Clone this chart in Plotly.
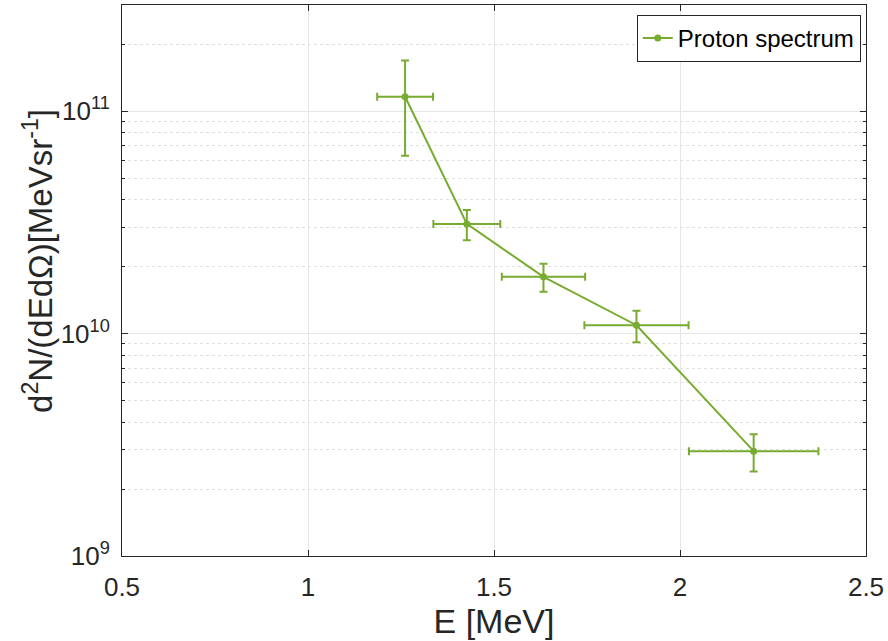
import plotly.graph_objects as go

energy = [1.261, 1.427, 1.633, 1.883, 2.198]
energy_err = [0.075, 0.09, 0.112, 0.14, 0.174]
counts = [1.16e11, 3.11e10, 1.80e10, 1.09e10, 2.96e9]
counts_err = [5.3e10, 4.85e9, 2.6e9, 1.75e9, 5.65e8]

x_ticks = [0.5, 1, 1.5, 2, 2.5]
x_ticktext = ["0.5", "1", "1.5", "2", "2.5"]
y_ticks = [1e9, 1e10, 1e11]
y_ticktext = ["10<sup>9</sup>", "10<sup>10</sup>", "10<sup>11</sup>"]

green = "#77AC30"

fig = go.Figure()
fig.add_trace(go.Scatter(
    x=energy, y=counts, mode="lines+markers", name="Proton spectrum",
    line=dict(color=green, width=2),
    marker=dict(color=green, size=7),
    error_y=dict(type="data", array=counts_err, color=green, thickness=2, width=4),
    error_x=dict(type="data", array=energy_err, color=green, thickness=2, width=4),
))

fig.add_annotation(
    text="d<sup>2</sup>N/(dEdΩ)[MeVsr<sup>-1</sup>]",
    xref="paper", yref="paper", x=-0.112, y=0.535,
    xanchor="center", yanchor="middle", textangle=-90, showarrow=False,
    font=dict(size=33, color="#262626"),
)

fig.update_layout(
    width=888, height=641,
    margin=dict(l=122, r=22, t=5, b=85),
    paper_bgcolor="white", plot_bgcolor="white",
    font=dict(family="Liberation Sans, Arial, sans-serif", color="#262626", size=26),
    showlegend=True,
    legend=dict(x=0.993, y=0.982, xanchor="right", yanchor="top",
                bordercolor="#262626", borderwidth=1, bgcolor="white",
                font=dict(size=24, color="black"), itemwidth=30,
                tracegroupgap=0),
    xaxis=dict(
        range=[0.5, 2.5], tickvals=x_ticks, ticktext=x_ticktext,
        showline=True, linecolor="#262626", linewidth=1, mirror="ticks",
        ticks="inside", ticklen=6, tickcolor="#262626",
        ticklabelstandoff=8,
        showgrid=True, gridcolor="#e6e6e6", gridwidth=1, zeroline=False,
        title=dict(text="E [MeV]", font=dict(size=34), standoff=4),
    ),
    yaxis=dict(
        type="log", range=[9, 11.477], tickvals=y_ticks, ticktext=y_ticktext,
        showline=True, linecolor="#262626", linewidth=1, mirror="ticks",
        ticks="inside", ticklen=6, tickcolor="#262626",
        ticklabelstandoff=6,
        showgrid=True, gridcolor="#e6e6e6", gridwidth=1, zeroline=False,
        minor=dict(ticks="inside", ticklen=3, tickcolor="#262626",
                   showgrid=True, gridcolor="#e0e0e0", griddash="dot", gridwidth=1,
                   dtick="D1"),
    ),
)

fig.write_html("out.html")
